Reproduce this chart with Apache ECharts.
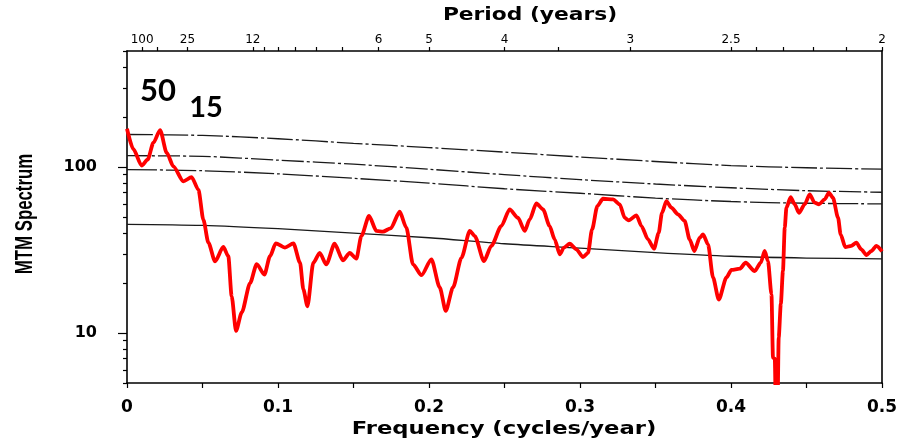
<!DOCTYPE html>
<html>
<head>
<meta charset="utf-8">
<script src="https://cdn.jsdelivr.net/npm/echarts@6/dist/echarts.min.js"></script>
<style>
  html, body { margin: 0; padding: 0; background: #fff; }
  #chart { width: 924px; height: 440px; }
</style>
</head>
<body>
<div id="chart"></div>
<script>
// MTM spectrum: frequency (cycles/year) and spectral power
const freq = [
  0.000, 0.0042, 0.0097, 0.0137, 0.0175, 0.0219, 0.0263, 0.0307, 0.0373, 0.0428,
  0.0473, 0.0506, 0.0539, 0.0583, 0.0638, 0.0671, 0.0693, 0.0722, 0.0760, 0.0815,
  0.0859, 0.0910, 0.0947, 0.0985, 0.1046, 0.1102, 0.1146, 0.1168, 0.1195, 0.1234,
  0.1276, 0.1320, 0.1375, 0.1430, 0.1475, 0.1519, 0.1552, 0.1603, 0.1652, 0.1695,
  0.1746, 0.1806, 0.1850, 0.1894, 0.1950, 0.2016, 0.2071, 0.2111, 0.2159, 0.2215,
  0.2270, 0.2303, 0.2364, 0.2413, 0.2479, 0.2534, 0.2589, 0.2634, 0.2667, 0.2711,
  0.2755, 0.2799, 0.2832, 0.2866, 0.2894, 0.2932, 0.2976, 0.3020, 0.3053, 0.3080,
  0.3115, 0.3152, 0.3219, 0.3263, 0.3296, 0.3322, 0.3374, 0.3407, 0.3450, 0.3490,
  0.3521, 0.3543, 0.3572, 0.3605, 0.3649, 0.3693, 0.3726, 0.3757, 0.3793, 0.3815,
  0.3848, 0.3881, 0.3919, 0.3970, 0.4003, 0.4058, 0.4097, 0.4157, 0.4197, 0.4223,
  0.4245, 0.4268, 0.4278, 0.4290, 0.4298, 0.4307, 0.4316, 0.4330, 0.4344, 0.4356,
  0.4367, 0.4395, 0.4422, 0.4450, 0.4488, 0.4521, 0.4554, 0.4583, 0.4620, 0.4649,
  0.4675, 0.4709, 0.4726, 0.4757, 0.4797, 0.4830, 0.4863, 0.4897, 0.4930, 0.4963,
  0.5000
];
const power = [
  170, 128, 102, 111, 140, 167, 122, 101, 82, 87,
  73, 48, 35, 27, 33, 29, 16.7, 10.3, 13.3, 20,
  26, 22.5, 29, 34.7, 32.7, 34.7, 26.5, 18.3, 14.5, 26.5,
  30.4, 25.9, 34.5, 27.4, 30.4, 28.1, 38.4, 50.7, 41.2, 40.8,
  42.7, 53.8, 43.1, 25.9, 22.3, 27.8, 18.8, 13.6, 18.8, 28.4,
  41.2, 38.4, 27.1, 33.5, 44.1, 55.6, 49.5, 41.2, 48.4, 60.4,
  55.6, 44.1, 36.7, 29.8, 32.7, 34.5, 31.9, 28.7, 30.4, 42.1,
  58.2, 64.4, 63.8, 59.6, 49.5, 47.7, 51.1, 44.1, 36.7, 32.2,
  40.1, 53, 62.4, 56.9, 51.9, 47.3, 36.7, 31.2, 37.5, 39.3,
  34.2, 21.6, 15.9, 21.6, 24, 24.4, 26.5, 23.6, 26.5, 31.2,
  27.1, 17.1, 7.1, 7.0, 3, 3, 9.4, 15, 23.6, 43.1,
  56.9, 65.9, 59.6, 53, 59.6, 68.4, 61, 59.6, 63.8, 70.1,
  65.3, 49.5, 39.3, 32.9, 33.5, 35, 31.9, 29.5, 31.2, 33.5,
  31
];

// Red-noise background and confidence levels
const levelFreq  = [0, 0.05, 0.1, 0.15, 0.2, 0.25, 0.3, 0.35, 0.4, 0.45, 0.5];
const level99    = [157, 155, 148, 139, 131, 123, 115, 108, 102, 99, 97];
const level95    = [117, 116, 110, 104, 97, 90, 84, 79, 75, 72, 70.5];
const level90    = [96.5, 95, 91, 85.5, 80, 74, 69.5, 65, 62, 60.5, 60];
const background = [45.2, 44.5, 42.5, 40, 37.5, 34.5, 32.5, 30.5, 29, 28.3, 28];

// Axis ticks
const periodTicks  = [100, 50, 25, 12, 11, 10, 9, 8, 7, 6, 5, 4, 3.5, 3, 2.5, 2.4, 2.3, 2.2, 2.1, 2];
const periodLabels = [100, 25, 12, 6, 5, 4, 3, 2.5, 2];
const yMinorTicks  = [5, 6, 7, 8, 9, 20, 30, 40, 50, 60, 70, 80, 90, 200, 300, 400, 500];
const yMajorTicks  = [10, 100];

// Peak annotations (period in years)
const peakNotes = ['50', '15'];

const pair = (xs, ys) => xs.map((x, i) => [x, ys[i]]);
const toFreq = ps => ps.map(p => 1 / p);

const boldFont = 'DejaVu Sans';
const chart = echarts.init(document.getElementById('chart'), null, { renderer: 'canvas' });

const levelStyle = (dash) => ({ color: '#1a1a1a', width: 1.3, type: dash });

chart.setOption({
  animation: false,
  backgroundColor: '#fff',
  grid: { left: 127, right: 42, top: 51, bottom: 57, containLabel: false },
  xAxis: [
    {
      type: 'value', position: 'bottom', min: 0, max: 0.5, interval: 0.1,
      axisLine: { show: true, lineStyle: { color: '#000', width: 1.6 } },
      axisTick: { show: true, length: 5, lineStyle: { color: '#000', width: 1.2 } },
      minorTick: { show: true, splitNumber: 2, length: 5, lineStyle: { color: '#000', width: 1.2 } },
      splitLine: { show: false },
      axisLabel: {
        margin: 16, color: '#000', fontFamily: boldFont, fontWeight: 'bold', fontSize: 17,
        formatter: v => String(Math.round(v * 10) / 10)
      }
    },
    {
      type: 'value', position: 'top', min: 0, max: 0.5,
      axisLine: { show: true, lineStyle: { color: '#000', width: 1.6 } },
      axisTick: { show: true, length: 4, customValues: toFreq(periodTicks), lineStyle: { color: '#000', width: 1.2 } },
      splitLine: { show: false },
      axisLabel: {
        margin: 5, color: '#000', fontFamily: 'DejaVu Sans', fontSize: 12,
        customValues: toFreq(periodLabels),
        formatter: v => String(Math.round(10 / v) / 10)
      }
    }
  ],
  yAxis: [
    {
      type: 'log', logBase: 10, min: 5, max: 500, position: 'left',
      axisLine: { show: true, lineStyle: { color: '#000', width: 1.6 } },
      axisTick: { show: true, length: 4, customValues: yMinorTicks, lineStyle: { color: '#000', width: 1.2 } },
      splitLine: { show: false },
      axisLabel: {
        margin: 30, color: '#000', fontFamily: boldFont, fontWeight: 'bold', fontSize: 16,
        customValues: yMajorTicks,
        formatter: v => String(Math.round(v))
      }
    },
    {
      type: 'log', logBase: 10, min: 5, max: 500, position: 'left',
      axisLine: { show: false },
      axisTick: { show: true, length: 9, customValues: yMajorTicks, lineStyle: { color: '#000', width: 1.2 } },
      axisLabel: { show: false },
      splitLine: { show: false }
    },
    {
      type: 'log', logBase: 10, min: 5, max: 500, position: 'right',
      axisLine: { show: true, lineStyle: { color: '#000', width: 1.6 } },
      axisTick: { show: false },
      axisLabel: { show: false },
      splitLine: { show: false }
    }
  ],
  graphic: [
    {
      type: 'text', x: 530, y: 16, scaleX: 1.28,
      style: { text: 'Period (years)', fill: '#000', font: 'bold 17px "DejaVu Sans"', textAlign: 'center', textVerticalAlign: 'middle' }
    },
    {
      type: 'text', x: 504, y: 429, scaleX: 1.26,
      style: { text: 'Frequency (cycles/year)', fill: '#000', font: 'bold 18px "DejaVu Sans"', textAlign: 'center', textVerticalAlign: 'middle' }
    },
    {
      type: 'text', x: 25, y: 214, rotation: Math.PI / 2, scaleX: 0.7,
      style: { text: 'MTM Spectrum', fill: '#000', font: 'bold 24px "Liberation Sans", Arial, sans-serif', textAlign: 'center', textVerticalAlign: 'middle' }
    },
    {
      type: 'text', x: 158, y: 91,
      style: { text: peakNotes[0], fill: '#000', font: 'bold 31px Lato, "Liberation Sans", sans-serif', textAlign: 'center', textVerticalAlign: 'middle' }
    },
    {
      type: 'text', x: 206, y: 108,
      style: { text: peakNotes[1], fill: '#000', font: 'bold 29px Lato, "Liberation Sans", sans-serif', textAlign: 'center', textVerticalAlign: 'middle' }
    }
  ],
  series: [
    { type: 'line', name: '99%', xAxisIndex: 0, yAxisIndex: 0, data: pair(levelFreq, level99), showSymbol: false, smooth: 0.3, lineStyle: levelStyle([26, 3, 3, 3]), z: 2 },
    { type: 'line', name: '95%', xAxisIndex: 0, yAxisIndex: 0, data: pair(levelFreq, level95), showSymbol: false, smooth: 0.3, lineStyle: levelStyle([22, 3, 3, 3]), z: 2 },
    { type: 'line', name: '90%', xAxisIndex: 0, yAxisIndex: 0, data: pair(levelFreq, level90), showSymbol: false, smooth: 0.3, lineStyle: levelStyle([30, 3, 3, 3]), z: 2 },
    { type: 'line', name: 'median', xAxisIndex: 0, yAxisIndex: 0, data: pair(levelFreq, background), showSymbol: false, smooth: 0.3, lineStyle: levelStyle('solid'), z: 2 },
    {
      type: 'line', name: 'MTM', xAxisIndex: 0, yAxisIndex: 0, data: pair(freq, power),
      showSymbol: false, smooth: 0.25, smoothMonotone: 'x', clip: true,
      lineStyle: { color: '#ff0000', width: 3.8, join: 'round' }, z: 3
    }
  ]
});
</script>
</body>
</html>
